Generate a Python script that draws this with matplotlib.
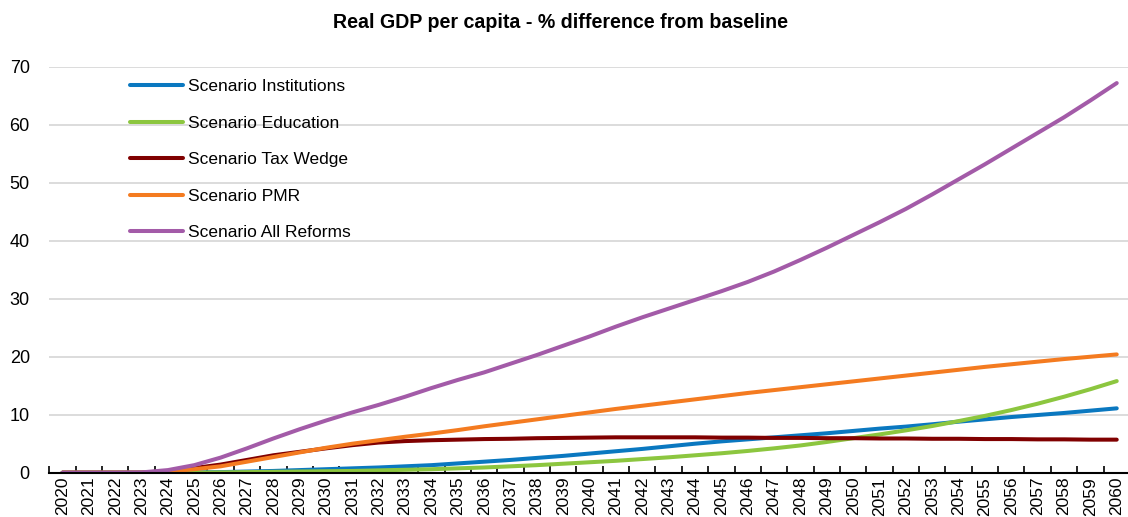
import matplotlib
matplotlib.use("Agg")
import matplotlib.pyplot as plt
from matplotlib import font_manager
import numpy as np

years = list(range(2020, 2061))

institutions = [0, 0, 0, 0, 0, 0.05, 0.1, 0.2, 0.3, 0.45, 0.6, 0.75, 0.9, 1.1, 1.3, 1.6,
                1.9, 2.2, 2.55, 2.9, 3.3, 3.7, 4.1, 4.55, 5.0, 5.4, 5.75, 6.1, 6.45, 6.8, 7.2,
                7.6, 7.95, 8.35, 8.8, 9.2, 9.6, 9.95, 10.3, 10.7, 11.1]
education = [0, 0, 0, 0, 0, 0.02, 0.05, 0.1, 0.15, 0.2, 0.25, 0.3, 0.4, 0.5, 0.6, 0.75,
             0.9, 1.1, 1.3, 1.55, 1.8, 2.05, 2.35, 2.65, 3.0, 3.35, 3.75, 4.2, 4.7, 5.3, 5.95,
             6.6, 7.3, 8.05, 8.9, 9.8, 10.8, 11.9, 13.1, 14.4, 15.8]
tax_wedge = [0, 0, 0, 0, 0.3, 0.8, 1.4, 2.2, 3.0, 3.6, 4.2, 4.75, 5.2, 5.45, 5.6, 5.7,
             5.8, 5.85, 5.95, 6.0, 6.05, 6.1, 6.1, 6.1, 6.1, 6.05, 6.05, 6.0, 6.0, 5.95, 5.95,
             5.9, 5.9, 5.85, 5.85, 5.8, 5.8, 5.75, 5.75, 5.7, 5.7]
pmr = [0, 0, 0, 0, 0.2, 0.6, 1.1, 1.9, 2.7, 3.5, 4.3, 5.0, 5.6, 6.2, 6.75, 7.35,
       8.0, 8.6, 9.2, 9.8, 10.4, 11.0, 11.55, 12.1, 12.65, 13.2, 13.75, 14.25, 14.75, 15.25, 15.75,
       16.25, 16.75, 17.25, 17.75, 18.25, 18.7, 19.15, 19.6, 20.0, 20.4]
all_reforms = [0, 0, 0, 0.05, 0.45, 1.3, 2.6, 4.2, 5.9, 7.5, 9.0, 10.4, 11.7, 13.1, 14.6, 16.0,
               17.3, 18.8, 20.3, 21.9, 23.5, 25.2, 26.8, 28.3, 29.8, 31.3, 32.9, 34.7, 36.7, 38.8, 41.0,
               43.2, 45.5, 48.0, 50.6, 53.2, 55.9, 58.6, 61.3, 64.2, 67.2]

series_names = ["Scenario Institutions", "Scenario Education", "Scenario Tax Wedge",
                "Scenario PMR", "Scenario All Reforms"]
series_values = [institutions, education, tax_wedge, pmr, all_reforms]
colors = ["#0a78c0", "#8cc63f", "#800000", "#f47b20", "#a35ba8"]

title = "Real GDP per capita - % difference from baseline"
yticks = [0, 10, 20, 30, 40, 50, 60, 70]

avail = {f.name for f in font_manager.fontManager.ttflist}
fam = ["Liberation Sans Narrow", "Liberation Sans", "DejaVu Sans"]
fam = [f for f in fam if f in avail] or ["DejaVu Sans"]
plt.rcParams["font.family"] = fam

fig = plt.figure(figsize=(11.28, 5.17), dpi=100)
ax = fig.add_axes([0.0437, 0.0857, 0.958, 0.785])

x = np.arange(len(years))
for name, vals, c in zip(series_names, series_values, colors):
    ax.plot(x, vals, color=c, lw=2.9, label=name, solid_capstyle="round",
            solid_joinstyle="round")

ax.set_xlim(-0.5, len(years) - 0.5)
ax.set_ylim(0, 70)
ax.set_yticks(yticks)
ax.set_yticklabels([str(v) for v in yticks], fontsize=13)
ax.tick_params(axis="y", length=0, pad=14)
ax.yaxis.grid(True, color="#d9d9d9", lw=1.3)
ax.set_axisbelow(True)

ax.set_xticks(x)
ax.set_xticklabels([str(y) for y in years], rotation=90, fontsize=12.5)
ax.tick_params(axis="x", which="major", length=0, pad=3)
ax.set_xticks(np.arange(-0.5, len(years) - 0.4, 1.0), minor=True)
ax.tick_params(axis="x", which="minor", direction="in", length=5, width=1.2, color="black")

for s in ["top", "right", "left"]:
    ax.spines[s].set_visible(False)
ax.spines["bottom"].set_linewidth(1.5)

fig.text(0.497, 0.957, title, ha="center", va="center", fontsize=14.1, fontweight="bold")

leg = ax.legend(loc="upper left", bbox_to_anchor=(0.0687, 0.987), frameon=False,
                fontsize=12.5, handlelength=3.0, handletextpad=0.29, labelspacing=1.23,
                borderaxespad=0)

fig.savefig("out.png", dpi=100)
